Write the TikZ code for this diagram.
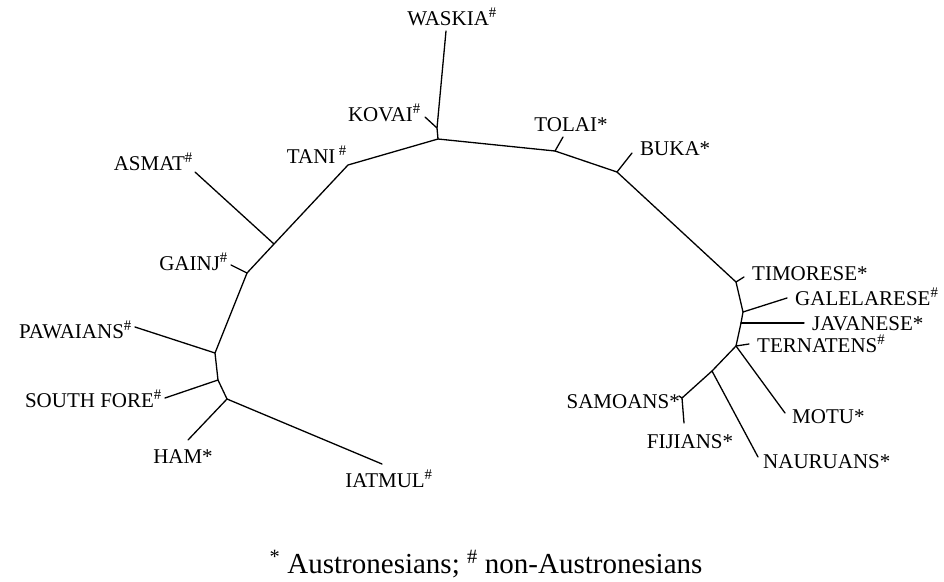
\documentclass[tikz,border=0pt]{standalone}
\usepackage{fontspec}
\setmainfont{Liberation Serif}
% marker for non-Austronesian languages
\newcommand\nonaus{\textsuperscript{\#}}
\begin{document}
\begin{tikzpicture}[x=1pt,y=-1pt,
  branch/.style={line width=1.3pt, line cap=round, line join=round},
  taxon/.style={inner sep=0pt, font=\fontsize{21}{25}\selectfont},
  legend/.style={inner sep=0pt, font=\fontsize{29}{34}\selectfont},
]
\useasboundingbox (0,0) rectangle (944,581);

% internal nodes of the tree
\coordinate (top)   at (438,139);
\coordinate (kov)   at (437,128);
\coordinate (tani)  at (348,165);
\coordinate (asm)   at (274,244);
\coordinate (gai)   at (247,273);
\coordinate (paw)   at (215,353);
\coordinate (sfo)   at (218,380);
\coordinate (ham)   at (227,399);
\coordinate (tol)   at (555,151);
\coordinate (buk)   at (617,172);
\coordinate (tim)   at (736,282);
\coordinate (gal)   at (743,312);
\coordinate (jav)   at (741,323);
\coordinate (ter)   at (736,346);
\coordinate (nau)   at (712,371);
\coordinate (sam)   at (682,398);

% leaf ends
\coordinate (Lwas) at (446,31);
\coordinate (Lkov) at (425,117);
\coordinate (Ltol) at (563,137);
\coordinate (Lbuk) at (632,153);
\coordinate (Lasm) at (195,172);
\coordinate (Lgai) at (231,265);
\coordinate (Lpaw) at (135,327);
\coordinate (Lsfo) at (165,398);
\coordinate (Lham) at (188,440);
\coordinate (Liat) at (382,464);
\coordinate (Ltim) at (744,277);
\coordinate (Lgal) at (787,298);
\coordinate (Ljav) at (804,323);
\coordinate (Lter) at (749,344);
\coordinate (Lmot) at (785,413);
\coordinate (Lnau) at (758,457);
\coordinate (Lsam) at (679,396);
\coordinate (Lfij) at (684,423);

% backbone of the unrooted tree
\draw[branch] (ham) -- (sfo) -- (paw) -- (gai) -- (asm) -- (tani) -- (top)
  -- (tol) -- (buk) -- (tim) -- (gal) -- (jav) -- (ter) -- (nau) -- (sam);
\draw[branch] (top) -- (kov) -- (Lwas);

% terminal branches
\draw[branch] (kov) -- (Lkov);
\draw[branch] (tol) -- (Ltol);
\draw[branch] (buk) -- (Lbuk);
\draw[branch] (asm) -- (Lasm);
\draw[branch] (gai) -- (Lgai);
\draw[branch] (paw) -- (Lpaw);
\draw[branch] (sfo) -- (Lsfo);
\draw[branch] (ham) -- (Lham);
\draw[branch] (ham) -- (Liat);
\draw[branch] (tim) -- (Ltim);
\draw[branch] (gal) -- (Lgal);
\draw[branch] (jav) -- (Ljav);
\draw[branch] (ter) -- (Lter);
\draw[branch] (ter) -- (Lmot);
\draw[branch] (nau) -- (Lnau);
\draw[branch] (sam) -- (Lsam);
\draw[branch] (sam) -- (Lfij);

% language labels
\node[taxon, anchor=base]      (tWas) at (452,25)  {WASKIA\nonaus};
\node[taxon, anchor=base east] (tKov) at (421,121) {KOVAI\nonaus};
\node[taxon, anchor=base]      (tTol) at (571,131) {TOLAI*};
\node[taxon, anchor=base west] (tBuk) at (640,155) {BUKA*};
\node[taxon, anchor=base east] (tTan) at (347,163) {TANI\,\nonaus};
\node[taxon, anchor=base east] (tAsm) at (193,170) {ASMAT\nonaus};
\node[taxon, anchor=base east] (tGai) at (228,270) {GAINJ\nonaus};
\node[taxon, anchor=base east] (tPaw) at (132,338) {PAWAIANS\nonaus};
\node[taxon, anchor=base east] (tSfo) at (162,407) {SOUTH FORE\nonaus};
\node[taxon, anchor=base]      (tHam) at (183,463) {HAM*};
\node[taxon, anchor=base]      (tIat) at (389,487) {IATMUL\nonaus};
\node[taxon, anchor=base west] (tTim) at (752,280) {TIMORESE*};
\node[taxon, anchor=base west] (tGal) at (795,305) {GALELARESE\nonaus};
\node[taxon, anchor=base west] (tJav) at (812,330) {JAVANESE*};
\node[taxon, anchor=base west] (tTer) at (757,352) {TERNATENS\nonaus};
\node[taxon, anchor=base west] (tMot) at (792,423) {MOTU*};
\node[taxon, anchor=base west] (tNau) at (763,468) {NAURUANS*};
\node[taxon, anchor=base east] (tSam) at (680,408) {SAMOANS*};
\node[taxon, anchor=base]      (tFij) at (690,448) {FIJIANS*};

% key
\node[legend, anchor=base] (key) at (486,573)
  {\textsuperscript{*} Austronesians; \textsuperscript{\#} non-Austronesians};
\end{tikzpicture}
\end{document}
